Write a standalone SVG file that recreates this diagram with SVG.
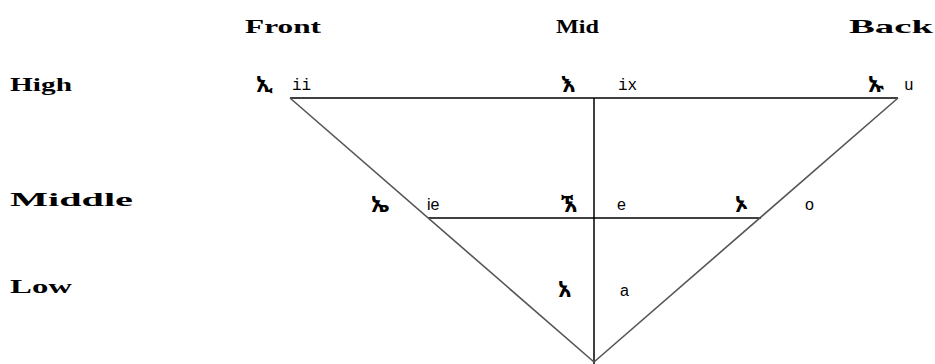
<svg xmlns="http://www.w3.org/2000/svg" width="935" height="364" viewBox="0 0 935 364">
<style>
.hd{font-family:"Liberation Serif",serif;font-weight:bold;font-size:19px;fill:#000}
.et{font-family:"Noto Sans Ethiopic","Abyssinica SIL","DejaVu Sans",sans-serif;font-weight:bold;font-size:22px;fill:#000}
.mo{font-family:"Liberation Mono",monospace;font-size:16px;fill:#000}
.sa{font-family:"Liberation Sans",sans-serif;font-size:16px;fill:#000}
.bl{stroke:#000;stroke-width:1.5;fill:none}
.gr{stroke:#555;stroke-width:1.6;fill:none}
</style>
<rect width="935" height="364" fill="#fff"/>
<g id="connectors">
<line class="bl" x1="290" y1="98" x2="898" y2="98"/>
<line class="bl" x1="594" y1="98" x2="594" y2="364"/>
<line class="bl" x1="428" y1="218" x2="761" y2="218"/>
<line class="gr" x1="290" y1="98" x2="594" y2="362"/>
<line class="gr" x1="898" y1="98" x2="594" y2="362"/>
</g>
<g id="headers">
<text class="hd" x="245" y="33" textLength="76" lengthAdjust="spacingAndGlyphs">Front</text>
<text class="hd" x="556" y="33" textLength="43" lengthAdjust="spacingAndGlyphs">Mid</text>
<text class="hd" x="849" y="33" textLength="84" lengthAdjust="spacingAndGlyphs">Back</text>
<text class="hd" x="10" y="91" textLength="62" lengthAdjust="spacingAndGlyphs">High</text>
<text class="hd" x="10" y="206" textLength="123" lengthAdjust="spacingAndGlyphs">Middle</text>
<text class="hd" x="10" y="293" textLength="62" lengthAdjust="spacingAndGlyphs">Low</text>
</g>
<g id="v-ii"><text class="et" x="256" y="92">ኢ</text><text class="mo" x="292" y="90">ii</text></g>
<g id="v-ix"><text class="et" x="561" y="92">እ</text><text class="mo" x="618" y="90">ix</text></g>
<g id="v-u"><text class="et" x="868" y="92">ኡ</text><text class="mo" x="904" y="90">u</text></g>
<g id="v-ie"><text class="et" x="371" y="212">ኤ</text><text class="sa" x="427" y="210">ie</text></g>
<g id="v-e"><text class="et" x="561" y="212">ኧ</text><text class="sa" x="617" y="210">e</text></g>
<g id="v-o"><text class="et" x="735" y="212">ኦ</text><text class="sa" x="805" y="210">o</text></g>
<g id="v-a"><text class="et" x="558" y="297">አ</text><text class="sa" x="620" y="296">a</text></g>
</svg>
